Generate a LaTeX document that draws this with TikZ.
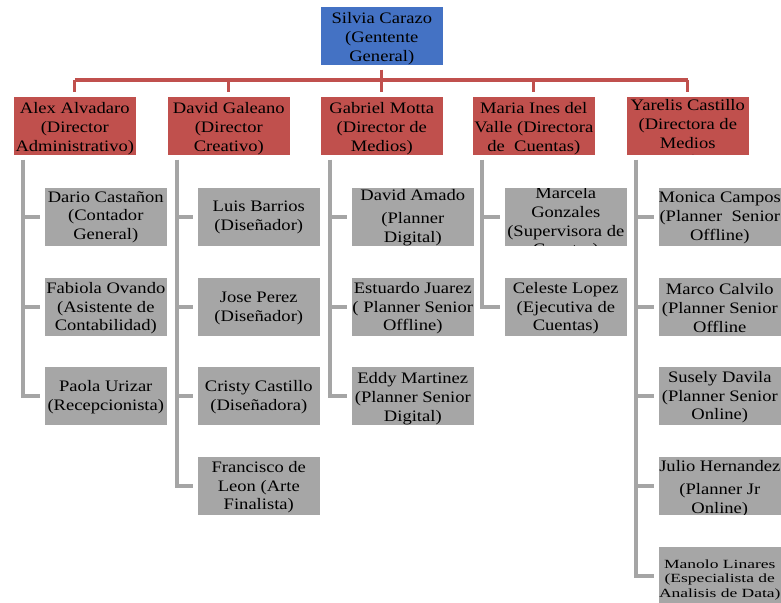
\documentclass[tikz,border=0pt]{standalone}
\usepackage{fontspec}
\setmainfont[FakeStretch=1.16]{Liberation Serif}
\newfontfamily\smallserif[FakeStretch=1.4]{Liberation Serif}
\definecolor{bossblue}{HTML}{4472C4}
\definecolor{headred}{HTML}{C0504D}
\definecolor{staffgray}{HTML}{A6A6A6}
\definecolor{linegray}{HTML}{A5A5A5}
\tikzset{
  orgbox/.style={anchor=north west, minimum width=123pt, minimum height=59pt, inner sep=0pt, draw=white, line width=0.6pt},
  bossbox/.style={orgbox, fill=bossblue},
  headbox/.style={orgbox, fill=headred},
  staffbox/.style={orgbox, fill=staffgray},
  redline/.style={draw=headred, line width=3.2pt},
  grayline/.style={draw=linegray, line width=3.5pt},
  boxtext/.style={anchor=center, minimum width=0pt, minimum height=0pt, draw=none, fill=none, align=center, inner sep=0pt, text=black, font=\fontsize{16}{18.8}\selectfont},
}
\newcommand\orgnode[7]{%
  \node[#2, path picture={\node[boxtext,#6] at ([yshift=#5]path picture bounding box.center) {#7};}] (#1) at (#3,#4) {};}
\begin{document}
\begin{tikzpicture}[x=1pt,y=-1pt]
\useasboundingbox (0,0) rectangle (781,602);
\clip (0,0) rectangle (781,602);
% top
\orgnode{top}{bossbox}{320}{6}{-3pt}{}{Silvia Carazo\\(Gentente\\General)}
% heads
\orgnode{h1}{headbox}{13}{96}{-3pt}{}{Alex Alvadaro\\(Director\\Administrativo)}
\orgnode{h2}{headbox}{167}{96}{-3pt}{}{David Galeano\\(Director\\Creativo)}
\orgnode{h3}{headbox}{320}{96}{-3pt}{}{Gabriel Motta\\(Director de\\Medios)}
\orgnode{h4}{headbox}{472}{96}{-3pt}{}{Maria Ines del\\Valle (Directora\\de\ \ Cuentas)}
\orgnode{h5}{headbox}{626}{96}{-9pt}{}{Yarelis Castillo\\(Directora de\\Medios\\Estratégica)}
% staff column 1
\orgnode{c11}{staffbox}{44}{187}{-0.5pt}{}{Dario Castañon\\(Contador\\General)}
\orgnode{c12}{staffbox}{44}{277}{-1.5pt}{}{Fabiola Ovando\\(Asistente de\\Contabilidad)}
\orgnode{c13}{staffbox}{44}{366}{-1.5pt}{}{Paola Urizar\\(Recepcionista)}
% column 2
\orgnode{c21}{staffbox}{197}{187}{-0.5pt}{}{Luis Barrios\\(Diseñador)}
\orgnode{c22}{staffbox}{197}{277}{-1.5pt}{}{Jose Perez\\(Diseñador)}
\orgnode{c23}{staffbox}{197}{366}{-1.5pt}{}{Cristy Castillo\\(Diseñadora)}
\orgnode{c24}{staffbox}{197}{456}{-1.5pt}{}{Francisco de\\Leon (Arte\\Finalista)}
% column 3
\orgnode{c31}{staffbox}{351}{187}{-1pt}{}{David Amado\\[4pt](Planner\\Digital)}
\orgnode{c32}{staffbox}{351}{277}{-1.5pt}{}{Estuardo Juarez\\( Planner Senior\\Offline)}
\orgnode{c33}{staffbox}{351}{366}{-3pt}{}{Eddy Martinez\\(Planner Senior\\Digital)}
% column 4
\orgnode{c41}{staffbox}{504}{187}{-6pt}{}{Marcela\\Gonzales\\(Supervisora de\\Cuentas)}
\orgnode{c42}{staffbox}{504}{277}{-1.5pt}{}{Celeste Lopez\\(Ejecutiva de\\Cuentas)}
% column 5
\orgnode{c51}{staffbox}{658}{187}{-1pt}{}{Monica Campos\\(Planner\ \ Senior\\Offline)}
\orgnode{c52}{staffbox}{658}{277}{-1.5pt}{}{Marco Calvilo\\(Planner Senior\\Offline}
\orgnode{c53}{staffbox}{658}{366}{-1.5pt}{}{Susely Davila\\(Planner Senior\\Online)}
\orgnode{c54}{staffbox}{658}{456}{-3pt}{}{Julio Hernandez\\[4pt](Planner Jr\\Online)}
\orgnode{c55}{staffbox}{658}{546}{-4pt}{font=\smallserif\fontsize{12.5}{14.5}\selectfont}{Manolo Linares\\(Especialista de\\Analisis de Data)}
% red connectors
\coordinate (bus) at (0,80);
\draw[redline, shorten <=4pt] (top.south) -- (top.south |- bus);
\draw[redline] (h1.north |- bus) -- (h5.north |- bus);
\foreach \h in {h1,h2,h3,h4,h5}
  \draw[redline, shorten >=4pt] (\h.north |- bus) -- (\h.north);
% gray connectors
\coordinate (v1) at ([xshift=10pt,yshift=-4pt]h1.south west);
\coordinate (v2) at ([xshift=10pt,yshift=-4pt]h2.south west);
\coordinate (v3) at ([xshift=10pt,yshift=-4pt]h3.south west);
\coordinate (v4) at ([xshift=10pt,yshift=-4pt]h4.south west);
\coordinate (v5) at ([xshift=10pt,yshift=-4pt]h5.south west);
\draw[grayline, shorten >=4pt] (v1) |- (c13.west);
\draw[grayline, shorten >=4pt] (v2) |- (c24.west);
\draw[grayline, shorten >=4pt] (v3) |- (c33.west);
\draw[grayline, shorten >=4pt] (v4) |- (c42.west);
\draw[grayline, shorten >=4pt] (v5) |- (c55.west);
\foreach \v/\c in {v1/c11,v1/c12,v2/c21,v2/c22,v2/c23,v3/c31,v3/c32,v4/c41,v5/c51,v5/c52,v5/c53,v5/c54}
  \draw[grayline, shorten >=4pt] (\v |- \c.west) -- (\c.west);
\end{tikzpicture}
\end{document}
